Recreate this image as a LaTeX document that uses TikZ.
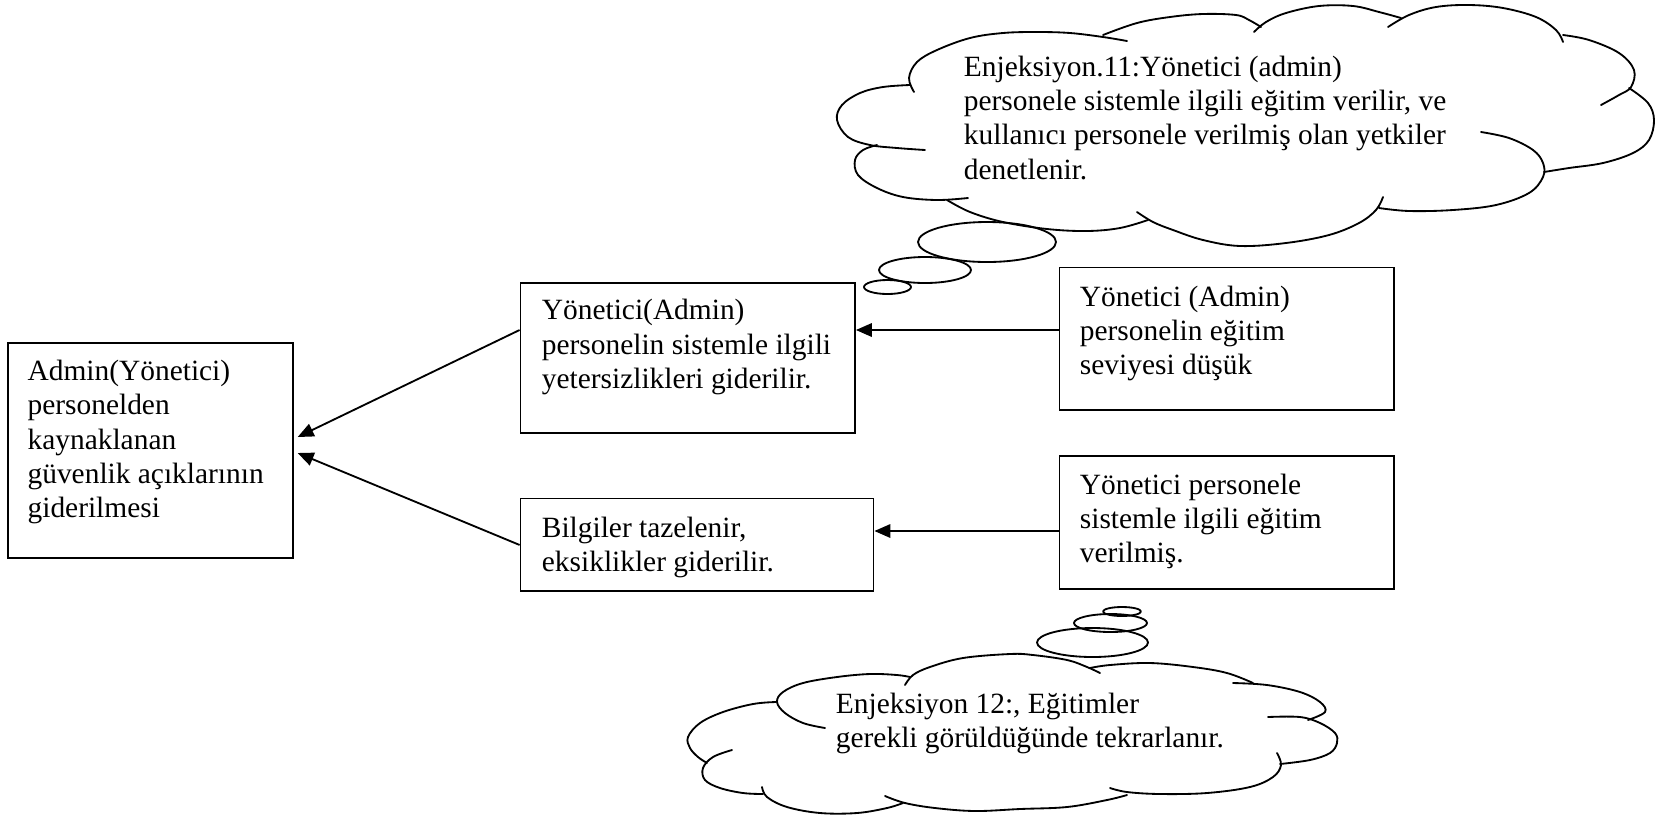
\documentclass[tikz,border=0pt]{standalone}
\usepackage{fontspec}
\setmainfont{Liberation Serif}
\usetikzlibrary{arrows.meta,fit,calc}
\begin{document}
\begin{tikzpicture}[x=0.408pt,y=-0.408pt,line width=0.75pt,
  box/.style={draw,rectangle,inner sep=0pt},
  txt/.style={anchor=north west,inner sep=0pt,align=left,
              font=\fontsize{12pt}{14pt}\selectfont},
  arr/.style={-{Triangle[length=6.5pt,width=5.5pt]}},
  puff/.style={line cap=round,line join=round},
  bumps/.style={smooth,tension=0.6}]

\fill[white] (0,0) rectangle (1656,819);
\useasboundingbox (0,0) rectangle (1656,819);

% ---------- boxes ----------
\node[box,fit={(8.3,343.3) (293,558)}]        (L)  {};
\node[box,fit={(520.5,283.3) (855,433.3)}]    (b2) {};
\node[box,fit={(520.5,498.5) (873.5,591.4)}]  (b3) {};
\node[box,fit={(1059.5,267.5) (1394,409.8)}]  (b4) {};
\node[box,fit={(1059.5,456) (1394,589.3)}]    (b5) {};

% ---------- box texts ----------
\node[txt] (tL) at (26.7,355.5) {\strut Admin(Yönetici)\\ personelden\\ kaynaklanan\\ güvenlik açıklarının\\ giderilmesi};
\node[txt] (t2) at (541,294.8) {\strut Yönetici(Admin)\\ personelin sistemle ilgili\\ yetersizlikleri giderilir.};
\node[txt] (t3) at (541,512.3) {\strut Bilgiler tazelenir,\\ eksiklikler giderilir.};
\node[txt] (t4) at (1079,281.3) {\strut Yönetici (Admin)\\ personelin eğitim\\ seviyesi düşük};
\node[txt] (t5) at (1079,469.3) {\strut Yönetici personele\\ sistemle ilgili eğitim\\ verilmiş.};

% ---------- connectors ----------
\coordinate (y1) at (700,330);
\coordinate (y2) at (950,531);
\coordinate (tipA) at (297.7,437);
\coordinate (tipB) at (297.7,453);
\draw[arr] (b4.west |- y1) -- (b2.east |- y1);
\draw[arr] (b5.west |- y2) -- (b3.east |- y2);
\draw[arr] (b2.west |- y1) -- (tipA);
\draw[arr] (b3.west) -- (tipB);

% ---------- upper thought cloud ----------
\begin{scope}[puff]
\draw plot[bumps] coordinates {(914,92) (909,78) (917,62) (937,50) (970,38) (1003,33) (1037,32) (1070,33) (1103,37) (1127,41)};
\draw plot[bumps] coordinates {(1103,35) (1137,23) (1170,17) (1203,14) (1236,15) (1249,20) (1261,27)};
\draw plot[bumps] coordinates {(1254,32) (1266,22) (1286,13) (1319,6) (1353,6) (1379,12) (1401,18)};
\draw plot[bumps] coordinates {(1388,27) (1409,15) (1436,7) (1469,5) (1503,8) (1536,17) (1556,30) (1563,42)};
\draw plot[bumps] coordinates {(1563,35) (1589,40) (1619,53) (1634,70) (1631,87) (1619,95) (1601,105)};
\draw plot[bumps] coordinates {(1629,88) (1648,103) (1654,120) (1649,140) (1633,153) (1603,163) (1569,168) (1544,172)};
\draw plot[bumps] coordinates {(1481,132) (1509,138) (1533,150) (1543,163) (1543,177) (1529,193) (1496,205) (1453,210) (1409,211) (1379,208)};
\draw plot[bumps] coordinates {(1383,197) (1376,210) (1359,223) (1329,235) (1286,243) (1240,246) (1203,240) (1173,230) (1153,222) (1137,212)};
\draw plot[bumps] coordinates {(1148,220) (1120,228) (1087,231) (1047,229) (1003,222) (970,212) (947,200)};
\draw plot[bumps] coordinates {(968,198) (937,200) (903,197) (877,188) (858,175) (855,160) (863,150) (877,145)};
\draw plot[bumps] coordinates {(925,150) (897,148) (870,145) (848,137) (837,120) (842,105) (860,93) (883,87) (910,85)};
\draw (987,242) ellipse [x radius=69, y radius=20];
\draw (925,270) ellipse [x radius=46, y radius=13];
\draw (887.5,287) ellipse [x radius=23.5, y radius=7];
\end{scope}
\node[txt] (c1) at (963,51.3) {\strut Enjeksiyon.11:Yönetici (admin)\\ personele sistemle ilgili eğitim verilir, ve\\ kullanıcı personele verilmiş olan yetkiler\\ denetlenir.};

% ---------- lower thought cloud ----------
\begin{scope}[puff]
\draw plot[bumps] coordinates {(825,728) (803,723) (785,713) (777,702) (783,692) (803,683) (837,677) (870,674) (897,675) (910,677)};
\draw plot[bumps] coordinates {(905,685) (913,675) (930,667) (963,658) (1010,654) (1033,655) (1067,660) (1087,667) (1100,673)};
\draw plot[bumps] coordinates {(1090,668) (1110,665) (1150,663) (1193,667) (1227,673) (1253,683)};
\draw plot[bumps] coordinates {(1233,683) (1267,685) (1300,692) (1320,702) (1325,712) (1308,720)};
\draw plot[bumps] coordinates {(1268,717) (1300,717) (1320,723) (1335,733) (1337,743) (1330,753) (1310,760) (1280,764)};
\draw plot[bumps] coordinates {(1277,753) (1281,765) (1273,777) (1250,787) (1207,793) (1160,794) (1127,792) (1110,788)};
\draw plot[bumps] coordinates {(1127,795) (1107,800) (1067,807) (1020,809) (975,811) (935,808) (905,803) (885,796)};
\draw plot[bumps] coordinates {(762,787) (767,797) (787,807) (820,813) (857,813) (887,808) (903,803)};
\draw plot[bumps] coordinates {(732,750) (713,757) (703,768) (705,780) (720,788) (743,793) (763,794)};
\draw plot[bumps] coordinates {(776,702) (753,704) (723,712) (700,723) (688,737) (690,748) (698,757) (707,763)};
\draw (1092.5,642.5) ellipse [x radius=55.5, y radius=14.5];
\draw (1110.5,623) ellipse [x radius=36.5, y radius=9];
\draw (1122,611.5) ellipse [x radius=19, y radius=4.5];
\end{scope}
\node[txt] (c2) at (835,688.3) {\strut Enjeksiyon 12:, Eğitimler\\ gerekli görüldüğünde tekrarlanır.};

\end{tikzpicture}
\end{document}
